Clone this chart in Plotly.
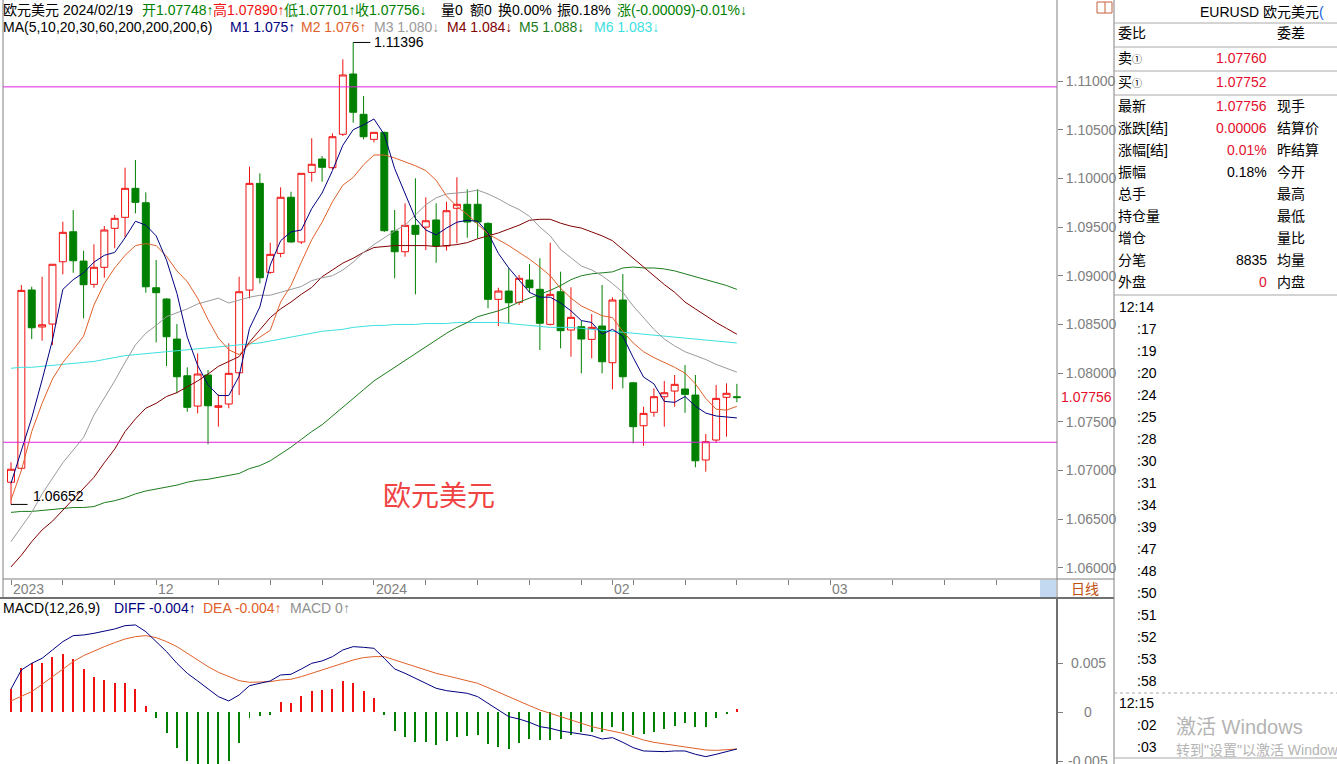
import plotly.graph_objects as go

W, H = 1337, 764

# ---------------- data ----------------
open_ = [1.06880, 1.07023, 1.08854, 1.08474, 1.08504, 1.09144, 1.09452, 1.09151, 1.08912, 1.09087,
         1.09487, 1.09600, 1.09898, 1.09750, 1.08877, 1.08761, 1.08350, 1.07973, 1.07662, 1.07981,
         1.07649, 1.07683, 1.08004, 1.08853, 1.09949, 1.09035, 1.09230, 1.09806, 1.09347, 1.10062,
         1.10199, 1.10110, 1.10453, 1.11072, 1.10658, 1.10401, 1.10473, 1.09460, 1.09247, 1.09518,
         1.09500, 1.09573, 1.09306, 1.09693, 1.09734, 1.09734, 1.09538, 1.08758, 1.08843, 1.08727,
         1.08956, 1.08861, 1.08501, 1.08836, 1.08443, 1.08477, 1.08347, 1.08484, 1.08107, 1.08751,
         1.07901, 1.07460, 1.07598, 1.07758, 1.07816, 1.07837, 1.07775, 1.07108, 1.07313, 1.07752,
         1.07748]
high = [1.07085, 1.08905, 1.08888, 1.08990, 1.09120, 1.09555, 1.09675, 1.09257, 1.09323, 1.09511,
        1.09624, 1.10110, 1.10189, 1.09857, 1.09162, 1.08770, 1.08504, 1.08060, 1.08203, 1.08032,
        1.07782, 1.08306, 1.08990, 1.10120, 1.10052, 1.09339, 1.09908, 1.09863, 1.10052, 1.10412,
        1.10230, 1.10463, 1.11223, 1.11396, 1.10846, 1.10473, 1.10480, 1.09675, 1.09744, 1.10001,
        1.09806, 1.09744, 1.09760, 1.10011, 1.09888, 1.09888, 1.09550, 1.08877, 1.09077, 1.09008,
        1.09120, 1.09180, 1.09339, 1.09042, 1.08881, 1.08538, 1.08607, 1.08905, 1.08779, 1.09018,
        1.07910, 1.07655, 1.07844, 1.07919, 1.07981, 1.08083, 1.07981, 1.07375, 1.07878, 1.07895,
        1.07890]
low = [1.06652, 1.07000, 1.08350, 1.08333, 1.08289, 1.09015, 1.09031, 1.08563, 1.08877, 1.08980,
       1.09282, 1.09395, 1.09641, 1.08826, 1.08316, 1.08073, 1.07793, 1.07604, 1.07587, 1.07269,
       1.07450, 1.07639, 1.07775, 1.08768, 1.08922, 1.09020, 1.09190, 1.09340, 1.09326, 1.09966,
       1.09966, 1.10093, 1.10435, 1.10572, 1.10401, 1.10370, 1.09450, 1.08974, 1.09196, 1.08810,
       1.09264, 1.09134, 1.09258, 1.09333, 1.09391, 1.09385, 1.08666, 1.08484, 1.08512, 1.08700,
       1.08826, 1.08237, 1.08490, 1.08255, 1.08169, 1.07998, 1.08152, 1.07998, 1.07834, 1.07844,
       1.07279, 1.07254, 1.07552, 1.07450, 1.07655, 1.07593, 1.07033, 1.06988, 1.07285, 1.07347,
       1.07701]
close = [1.07013, 1.08850, 1.08466, 1.08497, 1.09118, 1.09446, 1.09154, 1.08908, 1.09087, 1.09470,
         1.09590, 1.09898, 1.09754, 1.08887, 1.08826, 1.08374, 1.07963, 1.07649, 1.07991, 1.07665,
         1.07665, 1.07998, 1.08836, 1.09949, 1.08980, 1.09220, 1.09806, 1.09347, 1.10052, 1.10145,
         1.10114, 1.10428, 1.11062, 1.10679, 1.10428, 1.10473, 1.09463, 1.09247, 1.09518, 1.09426,
         1.09565, 1.09306, 1.09668, 1.09734, 1.09552, 1.09552, 1.08758, 1.08843, 1.08723, 1.08974,
         1.08877, 1.08512, 1.08809, 1.08436, 1.08573, 1.08350, 1.08470, 1.08117, 1.08751, 1.07963,
         1.07450, 1.07587, 1.07758, 1.07799, 1.07885, 1.07782, 1.07100, 1.07296, 1.07741, 1.07793,
         1.07756]

m1 = [1.0687, 1.0720, 1.0754, 1.0793, 1.0834, 1.0886, 1.0896, 1.0903, 1.0914, 1.0921,
      1.0924, 1.0939, 1.0956, 1.0952, 1.0941, 1.0916, 1.0882, 1.0837, 1.0808, 1.0788,
      1.0777, 1.0777, 1.0797, 1.0846, 1.0868, 1.0911, 1.0936, 1.0945, 1.0947, 1.0969,
      1.0985, 1.1008, 1.1034, 1.1050, 1.1055, 1.1061, 1.1045, 1.1010, 1.0985, 1.0959,
      1.0947, 1.0942, 1.0949, 1.0955, 1.0957, 1.0956, 1.0944, 1.0923, 1.0908, 1.0896,
      1.0883, 1.0878, 1.0878, 1.0872, 1.0864, 1.0854, 1.0852, 1.0840, 1.0845, 1.0838,
      1.0816, 1.0796, 1.0789, 1.0771, 1.0770, 1.0776, 1.0766, 1.0759, 1.0756, 1.0755,
      1.0754]
m2 = [1.0670, 1.0700, 1.0740, 1.0769, 1.0794, 1.0811, 1.0824, 1.0838, 1.0870, 1.0892,
      1.0908, 1.0921, 1.0931, 1.0933, 1.0931, 1.0920, 1.0905, 1.0894, 1.0877, 1.0855,
      1.0836, 1.0824, 1.0819, 1.0830, 1.0837, 1.0844, 1.0873, 1.0890, 1.0914, 1.0937,
      1.0955, 1.0976, 1.0993, 1.1001, 1.1014, 1.1024, 1.1024, 1.1021, 1.1017, 1.1013,
      1.1008, 1.0998, 1.0982, 1.0971, 1.0963, 1.0953, 1.0943, 1.0937, 1.0931, 1.0924,
      1.0917, 1.0909, 1.0900, 1.0887, 1.0877, 1.0869, 1.0864, 1.0859, 1.0857, 1.0843,
      1.0831, 1.0822, 1.0816, 1.0811, 1.0806, 1.0800, 1.0789, 1.0774, 1.0763, 1.0762,
      1.0766]
m3 = [1.0627, 1.0642, 1.0657, 1.0676, 1.0692, 1.0708, 1.0721, 1.0734, 1.0757, 1.0774,
      1.0792, 1.0811, 1.0829, 1.0841, 1.0849, 1.0858, 1.0862, 1.0866, 1.0871, 1.0874,
      1.0877, 1.0872, 1.0875, 1.0878, 1.0880, 1.0880, 1.0883, 1.0886, 1.0889, 1.0895,
      1.0898, 1.0900, 1.0906, 1.0914, 1.0924, 1.0932, 1.0939, 1.0946, 1.0952, 1.0962,
      1.0973, 1.0980, 1.0984, 1.0985, 1.0986, 1.0988, 1.0984, 1.0979, 1.0973, 1.0968,
      1.0961, 1.0950, 1.0941, 1.0927, 1.0918, 1.0910, 1.0906, 1.0900, 1.0892, 1.0883,
      1.0869, 1.0857, 1.0845, 1.0835, 1.0828, 1.0822, 1.0818, 1.0814, 1.0809, 1.0805,
      1.0801]
m4 = [1.0601, 1.0613, 1.0627, 1.0639, 1.0648, 1.0659, 1.0671, 1.0682, 1.0693, 1.0708,
      1.0722, 1.0740, 1.0753, 1.0764, 1.0769, 1.0776, 1.0780, 1.0786, 1.0792, 1.0799,
      1.0807, 1.0812, 1.0817, 1.0832, 1.0845, 1.0857, 1.0866, 1.0873, 1.0881, 1.0888,
      1.0899, 1.0906, 1.0913, 1.0918, 1.0924, 1.0929, 1.0930, 1.0931, 1.0931, 1.0931,
      1.0931, 1.0930, 1.0931, 1.0932, 1.0934, 1.0938, 1.0941, 1.0944, 1.0948, 1.0952,
      1.0957, 1.0958, 1.0958, 1.0954, 1.0951, 1.0949, 1.0945, 1.0941, 1.0936, 1.0927,
      1.0918, 1.0910, 1.0901, 1.0891, 1.0883, 1.0873, 1.0866, 1.0859, 1.0852, 1.0846,
      1.0840]
m5 = [1.0657, 1.0658, 1.0658, 1.0659, 1.0660, 1.0661, 1.0662, 1.0662, 1.0663, 1.0667,
      1.0669, 1.0672, 1.0676, 1.0679, 1.0681, 1.0683, 1.0685, 1.0688, 1.0690, 1.0691,
      1.0693, 1.0695, 1.0697, 1.0702, 1.0705, 1.0710, 1.0717, 1.0724, 1.0732, 1.0740,
      1.0747, 1.0756, 1.0765, 1.0775, 1.0783, 1.0792, 1.0799, 1.0806, 1.0813, 1.0820,
      1.0827, 1.0834, 1.0841, 1.0847, 1.0852, 1.0858, 1.0861, 1.0864, 1.0868, 1.0873,
      1.0877, 1.0881, 1.0885, 1.0890, 1.0896, 1.0900, 1.0902, 1.0903, 1.0904, 1.0908,
      1.0909, 1.0908, 1.0908, 1.0907, 1.0905, 1.0902, 1.0899, 1.0896, 1.0893, 1.0890,
      1.0886]
m6 = [1.0805, 1.0806, 1.0806, 1.0807, 1.0808, 1.0809, 1.0810, 1.0811, 1.0812, 1.0814,
      1.0816, 1.0818, 1.0819, 1.0820, 1.0821, 1.0822, 1.0823, 1.0824, 1.0825, 1.0826,
      1.0827, 1.0828, 1.0829, 1.0830, 1.0831, 1.0833, 1.0835, 1.0837, 1.0839, 1.0841,
      1.0843, 1.0844, 1.0845, 1.0847, 1.0848, 1.0849, 1.0849, 1.0850, 1.0850, 1.0850,
      1.0851, 1.0851, 1.0851, 1.0852, 1.0852, 1.0852, 1.0852, 1.0852, 1.0851, 1.0850,
      1.0849, 1.0848, 1.0847, 1.0847, 1.0847, 1.0846, 1.0845, 1.0844, 1.0843, 1.0842,
      1.0841, 1.0840, 1.0839, 1.0838, 1.0837, 1.0836, 1.0835, 1.0834, 1.0833, 1.0832,
      1.0831]

diff = [0.00238, 0.00432, 0.00500, 0.00551, 0.00636, 0.00721, 0.00782, 0.00789, 0.00806, 0.00830,
        0.00850, 0.00884, 0.00891, 0.00823, 0.00721, 0.00619, 0.00500, 0.00398, 0.00320, 0.00238,
        0.00160, 0.00116, 0.00177, 0.00272, 0.00296, 0.00320, 0.00381, 0.00388, 0.00442, 0.00500,
        0.00524, 0.00568, 0.00636, 0.00670, 0.00663, 0.00653, 0.00551, 0.00442, 0.00398, 0.00347,
        0.00296, 0.00245, 0.00221, 0.00211, 0.00194, 0.00160, 0.00092, 0.00024, -0.00044, -0.00068,
        -0.00102, -0.00146, -0.00163, -0.00190, -0.00204, -0.00224, -0.00238, -0.00272, -0.00258, -0.00306,
        -0.00360, -0.00394, -0.00401, -0.00401, -0.00394, -0.00394, -0.00428, -0.00452, -0.00428, -0.00401,
        -0.00374]
dea = [0.00116, 0.00160, 0.00211, 0.00286, 0.00364, 0.00442, 0.00517, 0.00578, 0.00626, 0.00670,
       0.00711, 0.00748, 0.00772, 0.00782, 0.00762, 0.00721, 0.00670, 0.00602, 0.00534, 0.00466,
       0.00408, 0.00364, 0.00323, 0.00306, 0.00306, 0.00313, 0.00330, 0.00337, 0.00364, 0.00398,
       0.00432, 0.00466, 0.00500, 0.00534, 0.00558, 0.00568, 0.00568, 0.00534, 0.00500, 0.00466,
       0.00432, 0.00398, 0.00374, 0.00347, 0.00320, 0.00296, 0.00252, 0.00204, 0.00160, 0.00116,
       0.00068, 0.00024, -0.00010, -0.00044, -0.00078, -0.00112, -0.00146, -0.00170, -0.00190, -0.00214,
       -0.00248, -0.00282, -0.00306, -0.00323, -0.00340, -0.00354, -0.00374, -0.00384, -0.00388, -0.00384,
       -0.00374]
macd_hist = [0.00238, 0.00455, 0.00500, 0.00506, 0.00567, 0.00592, 0.00544, 0.00442, 0.00363, 0.00330,
             0.00302, 0.00302, 0.00238, 0.00064, -0.00055, -0.00208, -0.00361, -0.00494, -0.00560, -0.00580,
             -0.00570, -0.00494, -0.00316, -0.00061, -0.00035, -0.00028, 0.00108, 0.00098, 0.00169, 0.00220,
             0.00227, 0.00238, 0.00319, 0.00296, 0.00220, 0.00149, -0.00028, -0.00191, -0.00249, -0.00300,
             -0.00300, -0.00334, -0.00290, -0.00249, -0.00239, -0.00232, -0.00323, -0.00351, -0.00374, -0.00316,
             -0.00272, -0.00283, -0.00283, -0.00275, -0.00232, -0.00198, -0.00198, -0.00204, -0.00147, -0.00191,
             -0.00232, -0.00224, -0.00204, -0.00170, -0.00136, -0.00112, -0.00147, -0.00153, -0.00061, -0.00010,
             0.00034]

date_tick_idx = [0, 5, 10, 14, 20, 25, 30, 35, 40, 45, 50, 55, 58, 60, 65, 70, 75, 79, 85, 90, 95, 100]
date_label_idx = [0, 14, 35, 58, 79]
date_label_text = ["2023", "12", "2024", "02", "03"]
price_ticks = [1.060, 1.065, 1.070, 1.075, 1.080, 1.085, 1.090, 1.095, 1.100, 1.105, 1.110]
macd_ticks = [-0.005, 0.0, 0.005]
macd_tick_text = ["-0.005", "0", "0.005"]
hline_values = [1.1094, 1.0729]
hline_labels = ["1.11", "1.07"]

title_name = "欧元美元"
header_date = "2024/02/19"
quote_title = "EURUSD 欧元美元"
stat_texts = ["量0", "额0", "换0.00%", "振0.18%"]
change_text = "涨(-0.00009)-0.01%↓"
panel_left = ["委比", "卖", "买", "最新", "涨跌[结]", "涨幅[结]", "振幅", "总手", "持仓量", "增仓", "分笔", "外盘"]
panel_values = ["", "1.07760", "1.07752", "1.07756", "0.00006", "0.01%", "0.18%", "", "", "", "8835", "0"]
panel_right = ["委差", "", "", "现手", "结算价", "昨结算", "今开", "最高", "最低", "量比", "均量", "内盘"]
tick_times = ["12:14", ":17", ":19", ":20", ":24", ":25", ":28", ":30", ":31", ":34", ":39", ":47",
              ":48", ":50", ":51", ":52", ":53", ":58", "12:15", ":02", ":03"]

# ---------------- styles ----------------
FONT = "Liberation Sans, Noto Sans CJK SC, sans-serif"
RED = "#f01010"
VRED = "#e4102c"
GREEN = "#008000"
GRAY = "#808080"
LGRAY = "#a8a8a8"
C_M = ["#000080", "#e0602a", "#9a9a9a", "#800000", "#1c7c1c", "#3ee0e0"]
MAGENTA = "#e020e0"


def px(x):
    return x / W


def py(y):
    return 1 - y / H


n = len(close)
xi = list(range(n))
XL, XR = -0.771, 100.87
Y_MAIN = [1.05886, 1.11832]
Y_MACD = [-0.00527, 0.01166]

fig = go.Figure()

fig.add_trace(go.Candlestick(
    x=xi[:-1], open=open_[:-1], high=high[:-1], low=low[:-1], close=close[:-1],
    increasing=dict(line=dict(color=RED, width=1), fillcolor="white"),
    decreasing=dict(line=dict(color=GREEN, width=1), fillcolor=GREEN),
    whiskerwidth=0, hoverinfo="skip", xaxis="x", yaxis="y"))
fig.add_trace(go.Candlestick(
    x=xi[-1:], open=open_[-1:], high=high[-1:], low=low[-1:], close=close[-1:],
    increasing=dict(line=dict(color=GREEN, width=1), fillcolor=GREEN),
    decreasing=dict(line=dict(color=GREEN, width=1), fillcolor=GREEN),
    whiskerwidth=0, hoverinfo="skip", xaxis="x", yaxis="y"))

for series, col in zip([m6, m5, m4, m3, m2, m1], [C_M[5], C_M[4], C_M[3], C_M[2], C_M[1], C_M[0]]):
    fig.add_trace(go.Scatter(x=xi, y=series, mode="lines", line=dict(color=col, width=1),
                             hoverinfo="skip", xaxis="x", yaxis="y"))

# MACD
bar_cols = [RED if v >= 0 else GREEN for v in macd_hist]
fig.add_trace(go.Bar(x=xi, y=macd_hist, marker=dict(color=bar_cols, line=dict(width=0)),
                     width=0.095, hoverinfo="skip", xaxis="x2", yaxis="y2"))
fig.add_trace(go.Scatter(x=xi, y=dea, mode="lines", line=dict(color=C_M[1], width=1),
                         hoverinfo="skip", xaxis="x2", yaxis="y2"))
fig.add_trace(go.Scatter(x=xi, y=diff, mode="lines", line=dict(color=C_M[0], width=1),
                         hoverinfo="skip", xaxis="x2", yaxis="y2"))

shapes = []
ann = []


def line(x0, y0, x1, y1, color=LGRAY, width=1, dash=None, xref="paper", yref="paper"):
    d = dict(type="line", xref=xref, yref=yref, x0=x0, y0=y0, x1=x1, y1=y1,
             line=dict(color=color, width=width))
    if dash:
        d["line"]["dash"] = dash
    shapes.append(d)


def text(x, y, s, color="#000000", size=14, xanchor="left", xref="paper", yref="paper", **kw):
    d = dict(x=x, y=y, xref=xref, yref=yref, text=s, showarrow=False, xanchor=xanchor,
             yanchor="middle", font=dict(family=FONT, size=size, color=color), borderpad=0)
    d.update(kw)
    ann.append(d)


# magenta horizontal lines with labels
for v, lab in zip(hline_values, hline_labels):
    line(px(3), v, px(1057), v, color=MAGENTA, width=1, yref="y")
    text(px(5), v, lab, color=MAGENTA, yshift=-9)

# high / low markers
hi_i = high.index(max(high))
lo_i = low.index(min(low))
line(hi_i, high[hi_i], hi_i + 1.65, high[hi_i], color="#000000", xref="x", yref="y")
text(hi_i + 1.9, high[hi_i], f"{high[hi_i]:.5f}", xref="x", yref="y", yshift=0)
line(lo_i, low[lo_i], lo_i + 1.6, low[lo_i], color="#000000", xref="x", yref="y")
text(lo_i + 2.0, low[lo_i], f"{low[lo_i]:.5f}", xref="x", yref="y", yshift=8)

# big name
text(px(382), py(497), title_name, color="#f04444", size=28)

# header line 1 (segments placed as in the picture)
G = "#008000"
HY1 = 10
text(px(2), py(HY1), f"{title_name} {header_date}")
ohlc_labels = ["开", "高", "低", "收"]
ohlc_vals = [open_[-1], high[-1], low[-1], close[-1]]
ohlc_arrows = ["↑", "↑", "↑", "↓"]
ohlc_cols = [G, RED, G, G]
ohlc_x = [141, 212, 283, 354]
for lab, v, ar, c, xx in zip(ohlc_labels, ohlc_vals, ohlc_arrows, ohlc_cols, ohlc_x):
    text(px(xx), py(HY1), f"{lab}{v:.5f}{ar}", color=c)
for s, xx in zip(stat_texts, [440, 469, 497, 556]):
    text(px(xx), py(HY1), s)
text(px(616), py(HY1), change_text, color=G)

# header line 2
HY2 = 27
text(px(2), py(HY2), "MA(5,10,20,30,60,200,200,200,6)")
ma_names = ["M1", "M2", "M3", "M4", "M5", "M6"]
ma_last = [m1[-1], m2[-1], m3[-1], m4[-1], m5[-1], m6[-1]]
ma_arrows = ["↑", "↑", "↓", "↓", "↓", "↓"]
ma_x = [229, 300, 373, 446, 518, 593]
for nm, v, ar, c, xx in zip(ma_names, ma_last, ma_arrows, C_M, ma_x):
    text(px(xx), py(HY2), f"{nm} {int(v * 1000) / 1000:.3f}{ar}", color=c)

# MACD header
text(px(2), py(608), "MACD(12,26,9)")
text(px(113), py(608), f"DIFF {diff[-1]:.3f}↑", color=C_M[0])
text(px(202), py(608), f"DEA {dea[-1]:.3f}↑", color=C_M[1])
text(px(289), py(608), "MACD 0↑", color="#909090")

# date labels
for i, lab in zip(date_label_idx, date_label_text):
    text(i, py(589), lab, color=GRAY, xref="x", xshift=1)

# current price label on axis
text(px(1060), close[-1], f"{close[-1]:.5f}", color=VRED, yref="y")

# MACD axis labels
for v, lab in zip(macd_ticks, macd_tick_text):
    text(px(1088), v, lab, color=GRAY, xanchor="center", yref="y2")

# frame lines
line(px(3), py(0), px(3), py(598), color=GRAY)
line(px(1057), py(0), px(1057), py(598), color=GRAY)
line(px(1057), py(598), px(1057), py(764), color="#707070", width=2)
line(px(3), py(579), px(1114), py(579), color=GRAY)
line(px(0), py(598), px(1114), py(598), color="#707070", width=2)
line(px(1114), py(0), px(1114), py(764), color=GRAY)
shapes.append(dict(type="rect", xref="paper", yref="paper", x0=px(1040), x1=px(1056), y0=py(597),
                   y1=py(580), fillcolor="#c3d9f1", line=dict(width=0)))
text(px(1085), py(589), "日线", color="#c0500e", xanchor="center")
# small icon top
shapes.append(dict(type="rect", xref="paper", yref="paper", x0=px(1097), x1=px(1112), y0=py(13),
                   y1=py(2), line=dict(color="#c8603a", width=1)))
line(px(1105), py(2), px(1105), py(13), color="#c8603a")

# quote panel
for yy in [23, 47, 71, 95, 295]:
    line(px(1114), py(yy), px(1337), py(yy), color=LGRAY)
line(px(1114), py(693), px(1337), py(693), color=LGRAY, dash="dot")
line(px(1114), py(758), px(1337), py(758), color=LGRAY)
text(px(1199), py(12), quote_title + "<span style='color:#1060e0'>(</span>")
row_y = [33, 58, 82, 106, 128, 150, 172, 194, 216, 238, 260, 282]
val_cols = ["#000", VRED, VRED, VRED, VRED, VRED, "#000", "#000", "#000", "#000", "#000", VRED]
for k, (lab, val, rlab, yy, vc) in enumerate(zip(panel_left, panel_values, panel_right, row_y, val_cols)):
    if k in (1, 2):
        lab = lab + "<span style='font-size:10px'>①</span>"
    text(px(1117), py(yy), lab)
    if val:
        text(px(1268), py(yy), val, color=vc, xanchor="right")
    if rlab:
        text(px(1276), py(yy), rlab)
for k, t in enumerate(tick_times):
    yy = 307 + 22 * k
    xx = 1118 if ":" != t[0] else 1136
    text(px(xx), py(yy), t)
text(px(1175), py(727), "激活 Windows", color="#b4b4b4", size=20)
text(px(1175), py(750), "转到\"设置\"以激活 Windows。", color="#b4b4b4", size=14)

fig.update_layout(
    width=W, height=H, margin=dict(l=0, r=0, t=0, b=0),
    paper_bgcolor="white", plot_bgcolor="white", showlegend=False,
    boxgap=0.33, boxgroupgap=0, bargap=0,
    xaxis=dict(domain=[px(3), px(1057)], range=[XL, XR], rangeslider=dict(visible=False),
               showgrid=False, zeroline=False, showline=False, tickvals=date_tick_idx,
               showticklabels=False, ticks="outside", ticklen=5, tickcolor=GRAY, anchor="y"),
    yaxis=dict(domain=[py(579), 1], range=Y_MAIN, side="right", tickvals=price_ticks,
               tickformat=".5f", ticks="outside", ticklen=5, tickcolor=GRAY,
               tickfont=dict(family=FONT, size=14, color=GRAY), showgrid=False, zeroline=False,
               showline=False, anchor="x"),
    xaxis2=dict(domain=[px(3), px(1057)], range=[XL, XR], visible=False, anchor="y2"),
    yaxis2=dict(domain=[0, py(598)], range=Y_MACD, side="right", tickvals=macd_ticks,
                showticklabels=False, ticks="outside", ticklen=5, tickcolor=GRAY,
                showgrid=False, zeroline=False, showline=False, anchor="x2"),
    shapes=shapes, annotations=ann,
)

fig.write_html("out.html")
